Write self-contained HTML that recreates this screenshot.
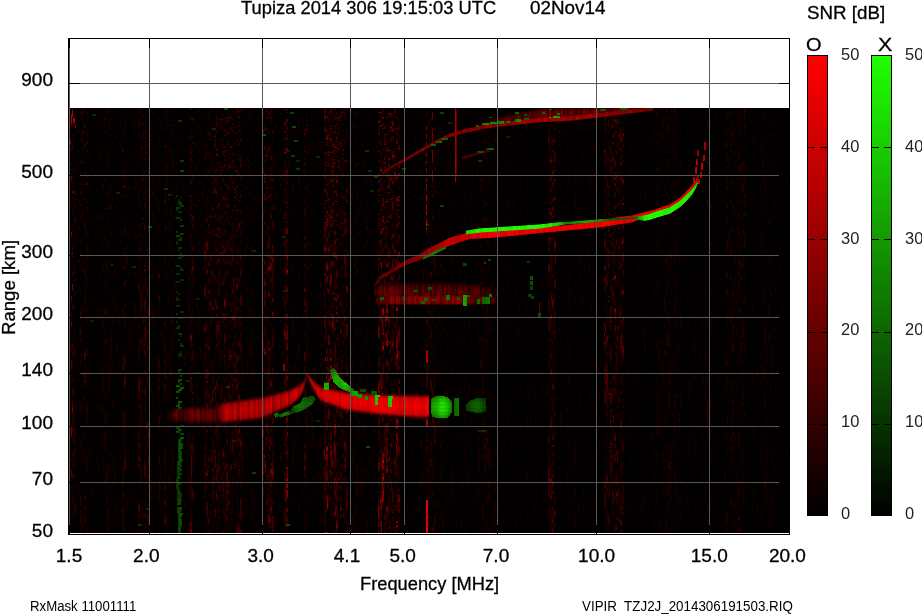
<!DOCTYPE html>
<html><head><meta charset="utf-8"><style>
html,body{margin:0;padding:0;background:#fff;width:922px;height:614px;overflow:hidden;position:relative}
svg{position:absolute;left:0;top:0}
.s{-webkit-text-stroke:0.3px #000}
.t{position:absolute;transform-origin:0 0;font-family:"Liberation Sans",sans-serif;color:#000;white-space:pre;line-height:1}
</style></head><body>
<canvas id="cv" width="719" height="425" style="position:absolute;left:70px;top:108px;background:#000"></canvas>
<script>
(function(){
var D = {"bands": [[70, 74, 0.22], [80, 86, 0.2], [105, 108, 0.15], [122, 125, 0.2], [138, 148, 0.2], [165, 170, 0.14], [190, 192, 0.3], [205, 215, 0.22], [215, 222, 0.3], [225, 240, 0.3], [263, 272, 0.32], [284, 286, 0.42], [305, 306, 0.24], [324, 336, 0.45], [336, 346, 0.3], [379, 398, 0.48], [426, 427, 0.3], [430, 434, 0.22], [480, 488, 0.18], [548, 555, 0.4], [604, 622, 0.42], [654, 680, 0.15], [704, 706, 0.15], [725, 745, 0.18], [760, 770, 0.14]], "tr": [{"ch": "r", "pts": [[166, 416, 3, 0.1], [176, 415, 6.5, 0.38], [190, 415, 7.5, 0.45], [212, 415, 7.5, 0.45], [221, 414, 8, 0.4]], "soft": 4.0, "var": 0.55, "cw": 2, "prof": 0.3, "dash": 0}, {"ch": "r", "pts": [[218, 413, 6, 0.3], [222, 413, 9.5, 0.8], [262, 408, 10, 0.82], [266, 406.5, 9.5, 0.85], [290, 398, 7.5, 0.88], [300, 391, 6, 0.85], [304, 385, 3.5, 0.7], [307, 374, 1.2, 0.55]], "soft": 3.0, "var": 0.3, "cw": 2, "prof": 0.2, "dash": 0}, {"ch": "r", "pts": [[307, 374, 1.2, 0.55], [312, 383, 3.5, 0.8], [320, 393.5, 6.5, 0.9], [345, 401, 8.5, 0.95], [380, 404.7, 9.5, 1.0], [420, 406.7, 10.5, 1.0], [429, 406.5, 10.5, 1.0]], "soft": 3.0, "var": 0.15, "cw": 2, "prof": 0.15, "dash": 0}, {"ch": "r", "pts": [[374, 286, 1.0, 0.25], [380, 278, 1.3, 0.38], [390, 272, 1.6, 0.42], [405, 263, 2.0, 0.45], [420, 257, 2.5, 0.55], [428, 252, 2.8, 0.68], [435, 249, 3.2, 0.72], [450, 241.5, 3.5, 0.8], [460, 238.5, 3.2, 0.85], [470, 235.5, 3, 0.9], [480, 235.3, 2.7, 0.95], [497, 233.9, 3, 1.0], [540, 230.4, 2.2, 1.0], [560, 228.5, 2.2, 1.0], [600, 224.3, 2.6, 1.0], [620, 220.5, 3.2, 1.0], [632, 219, 3, 1.0], [645, 214.5, 1.9, 1.0], [650, 213.3, 1.9, 1.0], [655, 212, 1.9, 1.0], [670, 206.8, 1.9, 1.0], [680, 200.3, 1.9, 1.0], [688, 192, 1.9, 0.95], [692, 187.3, 1.7, 0.9], [696, 182, 1.5, 0.85], [699, 175, 1, 0.7]], "soft": 1.0, "var": 0.15, "cw": 2, "prof": 0, "dash": 0}, {"ch": "g", "pts": [[466, 232.5, 1.5, 0.85], [480, 230.5, 1.7, 1.0], [540, 226.5, 1.7, 1.0], [558, 224, 1.3, 0.9], [566, 223.2, 0.8, 0.5], [585, 221.8, 0.9, 0.7], [600, 220.4, 0.8, 0.6], [612, 219.5, 0.6, 0.35], [634, 218, 0.6, 0.35], [645, 218, 2.4, 1.0], [650, 216.8, 2.6, 1.0], [655, 215, 2.7, 1.0], [670, 210.5, 2.8, 1.0], [680, 204, 2.8, 1.0], [687, 197.3, 2.7, 1.0], [692, 192, 2.4, 0.95], [696, 186, 1.8, 0.8], [698, 182, 1, 0.6]], "soft": 0.8, "var": 0.1, "cw": 2, "prof": 0, "dash": 0}, {"ch": "g", "pts": [[423, 258.5, 0.9, 0.45], [435, 252.5, 1.1, 0.5], [446, 247.5, 0.9, 0.45]], "soft": 0.8, "var": 0.1, "cw": 2, "prof": 0, "dash": 0}, {"ch": "r", "pts": [[382, 173.5, 1.0, 0.35], [393, 166.2, 1.0, 0.42], [406.6, 158.8, 1.1, 0.48], [421.3, 150.3, 1.2, 0.52], [433.5, 143, 1.3, 0.55], [449.4, 135.6, 1.3, 0.55], [462.8, 131.4, 1.4, 0.55], [480, 128, 1.5, 0.6]], "soft": 1.0, "var": 0.3, "cw": 2, "prof": 0, "dash": 0}, {"ch": "r", "pts": [[485, 124, 2, 0.35], [510, 119, 4, 0.45], [540, 115, 6, 0.52], [570, 113.5, 5.5, 0.52], [600, 111.5, 4, 0.5], [630, 110, 2.5, 0.45], [653, 108.8, 1.2, 0.4]], "soft": 2.5, "var": 0.6, "cw": 2, "prof": 0.5, "dash": 0}, {"ch": "r", "pts": [[480, 127.5, 1.5, 0.55], [497, 124.5, 1.8, 0.62], [540, 120, 1.8, 0.7], [570, 118.5, 1.8, 0.7], [600, 115, 1.8, 0.65], [630, 111.5, 1.5, 0.55], [653, 109, 1, 0.45]], "soft": 1.0, "var": 0.25, "cw": 2, "prof": 0, "dash": 0}, {"ch": "r", "pts": [[462, 158.2, 1.0, 0.3], [492, 149.5, 1.0, 0.32]], "soft": 1.0, "var": 0.3, "cw": 2, "prof": 0, "dash": 0}, {"ch": "r", "pts": [[374, 292, 4, 0.25], [382, 292, 8, 0.42], [440, 292, 9, 0.45], [480, 293, 8, 0.38], [497, 294, 5, 0.2]], "soft": 4.0, "var": 0.6, "cw": 2, "prof": 0.5, "dash": 0}, {"ch": "r", "pts": [[376, 300, 2.5, 0.3], [384, 300, 4.5, 0.6], [440, 300, 4.5, 0.62], [470, 300, 4.5, 0.55], [496, 300, 3.5, 0.35]], "soft": 1.5, "var": 0.45, "cw": 2, "prof": 0.2, "dash": 0}], "gp": [{"pts": [[289.3, 412.7], [293.6, 406.3], [301, 402.6], [303.1, 396.8], [313.7, 396.3], [315.8, 399.4], [311.6, 404.7], [305.2, 409], [297.8, 412.7], [291.5, 413.7]], "I": 0.5}, {"pts": [[274, 414], [278, 412], [279, 416], [275, 418]], "I": 0.45}, {"pts": [[278, 415], [289, 410.5], [292, 413.7], [280, 418]], "I": 0.5}, {"pts": [[330, 370], [334, 368], [339, 376], [345, 382], [352, 388], [356, 391], [356, 394], [346, 391], [338, 387], [333, 381]], "I": 0.85}, {"pts": [[323.7, 383], [329, 383], [329, 390], [323.7, 390]], "I": 0.75}, {"pts": [[433, 397], [440, 395.5], [448, 397], [452, 402], [452, 412], [448, 418], [440, 418.5], [432, 417], [431, 410], [431, 400]], "I": 0.95}, {"pts": [[453.6, 398], [459.3, 398], [459.3, 415.6], [453.6, 415.6]], "I": 0.5}, {"pts": [[466.2, 404], [471, 400], [478, 398], [486.2, 398], [486.2, 412], [478, 413.4], [471, 412], [466.2, 411]], "I": 0.42}, {"pts": [[300, 396], [314, 396], [314, 408.6], [300, 408.6]], "I": 0.0}, {"pts": [[351, 391], [358, 391], [358, 396], [351, 396]], "I": 0.7}, {"pts": [[357, 394], [362, 394], [362, 398], [357, 398]], "I": 0.65}, {"pts": [[365, 396], [368, 396], [368, 400], [365, 400]], "I": 0.6}, {"pts": [[375, 395], [380, 395], [380, 397], [375, 397]], "I": 0.85}, {"pts": [[375, 395], [378, 395], [378, 405], [375, 405]], "I": 0.85}, {"pts": [[388, 396], [393, 396], [393, 399], [388, 399]], "I": 0.85}, {"pts": [[388, 396], [392, 396], [392, 407], [388, 407]], "I": 0.85}, {"pts": [[371, 391], [377, 391], [377, 396], [371, 396]], "I": 0.4}, {"pts": [[360, 389], [366, 389], [366, 392], [360, 392]], "I": 0.35}, {"pts": [[482, 123], [489, 123], [489, 125], [482, 125]], "I": 0.62}, {"pts": [[490, 122], [497, 122], [497, 124], [490, 124]], "I": 0.62}, {"pts": [[498, 121], [503.6, 121], [503.6, 124], [498, 124]], "I": 0.62}, {"pts": [[507, 121], [510, 121], [510, 123], [507, 123]], "I": 0.58}, {"pts": [[515, 119], [521, 119], [521, 122], [515, 122]], "I": 0.58}, {"pts": [[524, 118], [528.6, 118], [528.6, 119.6], [524, 119.6]], "I": 0.47}, {"pts": [[515.5, 112], [519, 112], [519, 113.7], [515.5, 113.7]], "I": 0.43}, {"pts": [[524, 114], [527, 114], [527, 116], [524, 116]], "I": 0.39}, {"pts": [[541.6, 112], [545, 112], [545, 113.7], [541.6, 113.7]], "I": 0.43}, {"pts": [[549, 117.5], [551, 117.5], [551, 118.5], [549, 118.5]], "I": 0.7}, {"pts": [[553.5, 116], [560, 116], [560, 118], [553.5, 118]], "I": 0.7}, {"pts": [[549, 109], [552, 109], [552, 110.4], [549, 110.4]], "I": 0.47}, {"pts": [[557, 112.6], [560, 112.6], [560, 114.8], [557, 114.8]], "I": 0.47}, {"pts": [[489.5, 117.5], [491.7, 117.5], [491.7, 118.5], [489.5, 118.5]], "I": 0.39}, {"pts": [[476, 125], [478.7, 125], [478.7, 126.7], [476, 126.7]], "I": 0.47}, {"pts": [[431, 144], [436, 144], [436, 146], [431, 146]], "I": 0.47}, {"pts": [[436, 141.5], [442, 141.5], [442, 143.5], [436, 143.5]], "I": 0.47}, {"pts": [[442, 138.5], [448, 138.5], [448, 140.5], [442, 140.5]], "I": 0.43}, {"pts": [[477, 151], [483, 151], [483, 153], [477, 153]], "I": 0.4}, {"pts": [[487, 148], [494, 148], [494, 150], [487, 150]], "I": 0.42}, {"pts": [[600, 109], [606, 109], [606, 111], [600, 111]], "I": 0.39}, {"pts": [[620, 108], [628, 108], [628, 110], [620, 110]], "I": 0.39}, {"pts": [[379.7, 297], [384, 297], [384, 300], [379.7, 300]], "I": 0.4}, {"pts": [[402.3, 297], [405, 297], [405, 300], [402.3, 300]], "I": 0.35}, {"pts": [[414.4, 290], [418, 290], [418, 292], [414.4, 292]], "I": 0.4}, {"pts": [[421.4, 301], [425, 301], [425, 304], [421.4, 304]], "I": 0.45}, {"pts": [[424, 298], [428, 298], [428, 301], [424, 301]], "I": 0.45}, {"pts": [[428.3, 287], [432, 287], [432, 290], [428.3, 290]], "I": 0.4}, {"pts": [[431.8, 299], [435, 299], [435, 301], [431.8, 301]], "I": 0.4}, {"pts": [[445.7, 295.4], [450, 295.4], [450, 300], [445.7, 300]], "I": 0.5}, {"pts": [[457, 297], [460, 297], [460, 300], [457, 300]], "I": 0.4}, {"pts": [[463, 295.4], [467, 295.4], [467, 305.8], [463, 305.8]], "I": 0.7}, {"pts": [[467, 295.4], [470, 295.4], [470, 297.4], [467, 297.4]], "I": 0.5}, {"pts": [[477, 299], [480, 299], [480, 304], [477, 304]], "I": 0.45}, {"pts": [[482, 297], [490, 297], [490, 304], [482, 304]], "I": 0.5}, {"pts": [[489, 294.5], [492, 294.5], [492, 297.5], [489, 297.5]], "I": 0.5}, {"pts": [[463, 263], [467, 263], [467, 266], [463, 266]], "I": 0.3}, {"pts": [[530, 276], [533, 276], [533, 280], [530, 280]], "I": 0.35}, {"pts": [[530, 281], [533, 281], [533, 285], [530, 285]], "I": 0.35}, {"pts": [[530, 286], [533, 286], [533, 290], [530, 290]], "I": 0.3}, {"pts": [[528, 294], [532, 294], [532, 297], [528, 297]], "I": 0.3}, {"pts": [[531, 296], [534, 296], [534, 299], [531, 299]], "I": 0.3}, {"pts": [[538, 313], [541, 313], [541, 317], [538, 317]], "I": 0.35}, {"pts": [[527, 261], [530, 261], [530, 263], [527, 263]], "I": 0.25}, {"pts": [[484, 262], [486, 262], [486, 264], [484, 264]], "I": 0.3}, {"pts": [[488, 259], [491, 259], [491, 261], [488, 261]], "I": 0.3}, {"pts": [[290, 112], [294, 112], [294, 114], [290, 114]], "I": 0.3}, {"pts": [[292, 126], [296, 126], [296, 128], [292, 128]], "I": 0.35}, {"pts": [[294, 140], [298, 140], [298, 142], [294, 142]], "I": 0.3}, {"pts": [[291, 155], [295, 155], [295, 157], [291, 157]], "I": 0.3}, {"pts": [[296, 168], [300, 168], [300, 170], [296, 170]], "I": 0.25}, {"pts": [[365, 150], [369, 150], [369, 152], [365, 152]], "I": 0.25}, {"pts": [[368, 170], [372, 170], [372, 172], [368, 172]], "I": 0.25}, {"pts": [[370, 190], [374, 190], [374, 192], [370, 192]], "I": 0.2}, {"pts": [[440, 112], [444, 112], [444, 114], [440, 114]], "I": 0.3}, {"pts": [[402, 168], [406, 168], [406, 170], [402, 170]], "I": 0.3}, {"pts": [[440, 205], [444, 205], [444, 207], [440, 207]], "I": 0.3}, {"pts": [[178, 120], [182, 120], [182, 122], [178, 122]], "I": 0.25}, {"pts": [[180, 160], [184, 160], [184, 162], [180, 162]], "I": 0.25}, {"pts": [[212, 128], [216, 128], [216, 130], [212, 130]], "I": 0.2}], "rs": [[426, 126, 129, 0.55, 1], [426, 135, 138, 0.55, 1], [426, 142, 147, 0.55, 1], [426, 153, 155, 0.55, 1], [426, 161, 163, 0.55, 1], [426, 168, 172, 0.55, 1], [426, 178, 181, 0.55, 1], [426, 184, 189, 0.55, 1], [426, 195, 200, 0.8, 1], [426, 205, 208, 0.8, 1], [426, 211, 214, 0.8, 1], [426, 220, 225, 0.8, 1], [426, 227, 229, 0.8, 1], [432, 112, 118, 0.45, 1], [432, 128, 140, 0.45, 1], [432, 150, 162, 0.5, 1], [432, 170, 181, 0.45, 1], [455, 108, 181, 0.7, 1], [456, 110, 175, 0.45, 1], [426, 500, 533, 1.0, 2], [426, 419, 426, 0.7, 2], [426, 350, 362, 0.75, 2], [72, 110, 116, 0.8, 1], [71, 114, 124, 0.7, 1], [73, 118, 122, 0.75, 2], [75, 124, 127, 0.6, 1], [70, 140, 144, 0.55, 1], [71, 175, 178, 0.5, 1], [72, 190, 193, 0.5, 1], [71, 232, 236, 0.5, 1], [72, 284, 290, 0.5, 1], [71, 296, 300, 0.45, 1], [71, 322, 326, 0.45, 1], [72, 405, 412, 0.5, 1], [71, 425, 436, 0.5, 1], [71, 470, 476, 0.4, 1], [72, 252, 256, 0.4, 1], [71, 360, 366, 0.4, 1], [283, 364, 370, 0.6, 2], [191, 455, 475, 0.35, 1], [539, 302, 313, 0.4, 1], [693, 177, 182, 0.8, 2], [695, 167, 173, 0.8, 2], [696, 159, 164, 0.75, 2], [697, 150, 155, 0.7, 2], [698, 179, 183, 0.8, 2], [700, 172, 177, 0.8, 2], [701, 163, 169, 0.8, 2], [703, 155, 160, 0.75, 2], [704, 142, 149, 0.7, 2]]};
var OX=70, OY=108, W=719, H=425;
var cv = document.getElementById('cv');
var ctx = cv.getContext('2d');
var R = new Float32Array(W*H), G = new Float32Array(W*H);
var s = 88172645;
function rnd(){ s ^= s<<13; s>>>=0; s ^= s>>>17; s ^= s<<5; s>>>=0; return s/4294967296; }
var prof = new Float32Array(W), i, x, y;
for(x=0;x<W;x++) prof[x]=0.045 + 0.09*rnd()*rnd();
D.bands.forEach(function(b){ for(var xx=b[0];xx<=b[1];xx++){ var k=xx-OX; if(k>=0&&k<W) prof[k]=Math.max(prof[k], b[2]); }});
// background noise
var knY = new Float32Array(400), knV = new Float32Array(400);
for(var cx=0; cx<W; cx+=2){
  var pr = Math.max(prof[cx], prof[Math.min(W-1,cx+1)]);
  var colr = 0.45 + 0.55*rnd();
  var nk=0, ky0=-2*rnd()*8;
  while(ky0 < H+40 && nk<400){ knY[nk]=ky0; knV[nk]=rnd(); nk++; var pyk=ky0+OY; ky0 += (pyk<230?3:(pyk<420?3+12*(pyk-230)/190:15))*(0.6+0.8*rnd()); }
  var j=0, cellEnd=-1, cm=1, cm2=1;
  for(var y2=0; y2<H; y2++){
    while(j<nk-2 && knY[j+1]<=y2) j++;
    var t = (y2-knY[j])/(knY[j+1]-knY[j]); t = t*t*(3-2*t);
    var sv = knV[j]*(1-t)+knV[j+1]*t;
    var pyy = y2+OY, pxx = cx+OX;
    var gain = pxx<430?1:(pxx>510?0.68:1-0.32*(pxx-430)/80);
    var up = pxx<520 ? (pyy<200?1:(pyy>260?0:(260-pyy)/60)) : 0.0;
    if (y2>cellEnd){ cellEnd = y2 + 1 + Math.floor(rnd()*4); cm = rnd()<0.35?0.12:(0.45+0.9*rnd()); cm2 = rnd()<0.5?cm:(rnd()<0.35?0.12:(0.45+0.9*rnd())); }
    var base = pr*gain;
    var vu = (base+0.03)*(sv*sv*0.8)*(rnd()<0.6?(0.6+0.8*rnd()):0.15);
    var vl = base*colr*(0.1+0.9*sv*sv)*1.35;
    var v1 = up*vu*(0.8+0.4*rnd()) + (1-up)*vl*cm, v2 = up*vu*(0.7+0.5*rnd()) + (1-up)*vl*cm2;
    R[y2*W+cx] = v1; if(cx+1<W) R[y2*W+cx+1] = v2;
  }
}
// sparse green noise cells
for(i=0;i<45;i++){
  var gx = Math.floor(rnd()*220)*2, gy=Math.floor(rnd()*H/2)*2, gI = 0.12+0.25*rnd()*rnd();
  for(var a1=0;a1<2;a1++) for(var b1=0;b1<4;b1++){ var k=(gy+a1)*W+gx+b1; if(gx+b1<W&&gy+a1<H){G[k]=Math.max(G[k],gI); R[k]*=0.3;} }
}
// green streak at x~177-183
(function(){
  var kv=0.5, y3, k;
  for(y3=87; y3<H; y3+=2){
    var py = y3+OY;
    kv = Math.max(0, Math.min(1, kv + (rnd()-0.5)*0.6));
    var lvl, on;
    if (py>=438) { lvl = 0.22+0.1*kv; on = rnd()<0.95; }
    else if (py>=190) { lvl = 0.17+0.2*kv; on = rnd() < 0.5+0.4*kv; }
    else { lvl = 0.12+0.12*kv; on = rnd()<0.25; }
    if(!on) continue;
    var x0 = (py>=438)?(177+(kv>0.6?1:0)+(kv<0.2?-1:0)):(176+2*Math.floor(rnd()*3));
    var wd = (py>=438)?(3+Math.floor(rnd()*3)):(2+2*Math.floor(rnd()*2));
    for(var a3=0;a3<2 && y3+a3<H;a3++) for(var b2=0;b2<wd;b2++){ k=(y3+a3)*W+(x0-OX)+b2; var l2 = lvl*((b2==0||b2==wd-1)?0.8:1)*(0.85+0.3*rnd()); G[k]=Math.max(G[k],l2); R[k]*=0.3; }
  }
})();
function interp(pts, xq){
  if (xq<pts[0][0]||xq>pts[pts.length-1][0]) return null;
  for(var j=0;j<pts.length-1;j++){ var A=pts[j], B=pts[j+1]; if(xq>=A[0]&&xq<=B[0]){ var t=(B[0]==A[0])?0:(xq-A[0])/(B[0]-A[0]); return [A[1]+(B[1]-A[1])*t, A[2]+(B[2]-A[2])*t, A[3]+(B[3]-A[3])*t]; } }
  return null;
}
D.tr.forEach(function(tr){
  var x0=Math.floor(tr.pts[0][0]), x1=Math.ceil(tr.pts[tr.pts.length-1][0]);
  var colv=1;
  for(var xx=x0; xx<=x1; xx++){
    if((xx-x0)%tr.cw==0) colv = 1 - tr.var*rnd();
    var pp = interp(tr.pts, xx+0.5); if(!pp) continue;
    var yc=pp[0], hw=pp[1], I=pp[2];
    var ya=Math.floor(yc-hw-tr.soft-1), yb=Math.ceil(yc+hw+tr.soft+1);
    for(var yy2=ya; yy2<=yb; yy2++){
      var ad = Math.abs(yy2+0.5-yc);
      var al;
      if (tr.prof) { var e0 = hw - tr.soft, e1 = hw + tr.soft; var t2 = ad<=e0?0:(ad>=e1?1:(ad-e0)/(e1-e0)); al = 1 - t2*t2*(3-2*t2); al = al*(1-tr.prof*(ad/(hw+tr.soft))); }
      else { var d = ad-hw; al = d<=0?1:Math.max(0,1-d/tr.soft); }
      if(al<=0) continue;
      if (tr.dash && ((yy2 % Math.round(tr.dash*1.6)) >= tr.dash)) al*=0.1;
      var kx=xx-OX, ky=yy2-OY; if(kx<0||kx>=W||ky<0||ky>=H) continue;
      var k3=ky*W+kx, val=I*al*colv;
      if(tr.ch=='r') { R[k3]=Math.max(R[k3],val); G[k3]*=(1-al); } else { G[k3]=Math.max(G[k3],val); R[k3]*=(1-al*0.95); }
    }
  }
});
function inpoly(pts, px, py){
  var inside=false;
  for(var j=0,k=pts.length-1;j<pts.length;k=j++){
    var xi=pts[j][0], yi=pts[j][1], xj=pts[k][0], yj=pts[k][1];
    if(((yi>py)!=(yj>py)) && (px < (xj-xi)*(py-yi)/(yj-yi)+xi)) inside=!inside;
  }
  return inside;
}
D.gp.forEach(function(g){
  if(g.I<=0) return;
  var minx=1e9,maxx=-1e9,miny=1e9,maxy=-1e9;
  g.pts.forEach(function(q){minx=Math.min(minx,q[0]);maxx=Math.max(maxx,q[0]);miny=Math.min(miny,q[1]);maxy=Math.max(maxy,q[1]);});
  for(var py2=Math.floor(miny); py2<=Math.ceil(maxy); py2++) for(var px2=Math.floor(minx); px2<=Math.ceil(maxx); px2++){
    if(!inpoly(g.pts, px2+0.5, py2+0.5)) continue;
    var kx=px2-OX, ky=py2-OY; if(kx<0||kx>=W||ky<0||ky>=H) continue;
    var cvv = 0.82+0.18*Math.abs(Math.sin(Math.floor(px2/2)*12.9898+g.I*78.233)); var hxw=(maxx-minx)/2+0.5, hyw=(maxy-miny)/2+0.5; var ddx=(px2+0.5-(minx+maxx)/2)/hxw, ddy=(py2+0.5-(miny+maxy)/2)/hyw; if(hxw>4&&hyw>4) cvv*=Math.max(0.55, 1-0.4*(ddx*ddx+ddy*ddy)); cvv*= (0.9+0.1*Math.abs(Math.sin(py2*7.13))); var k4=ky*W+kx; G[k4]=Math.max(G[k4], g.I*cvv*(0.9+0.1*rnd())); R[k4]*=0.1;
  }
});
D.rs.forEach(function(q){
  for(var py3=q[1]; py3<=q[2]; py3++) for(var w=0; w<q[4]; w++){
    var kx=q[0]+w-OX, ky=py3-OY; if(kx<0||kx>=W||ky<0||ky>=H) continue;
    var k5=ky*W+kx; R[k5]=Math.max(R[k5], q[3]*(0.75+0.25*rnd()));
  }
});
var img = ctx.createImageData(W,H), dt=img.data;
for(i=0;i<W*H;i++){
  var gg=Math.min(1,G[i]), rr=Math.min(1,R[i]);
  dt[4*i]=Math.round(Math.max(rr, gg*0.15)*255);
  dt[4*i+1]=Math.round(gg*255);
  dt[4*i+2]=0; dt[4*i+3]=255;
}
ctx.putImageData(img,0,0);
})();

</script>
<svg width="922" height="614" viewBox="0 0 922 614" shape-rendering="crispEdges">
<rect x="69" y="39" width="1" height="494" fill="#585858"/>
<rect x="149" y="39" width="1" height="494" fill="#585858"/>
<rect x="262" y="39" width="1" height="494" fill="#585858"/>
<rect x="350" y="39" width="1" height="494" fill="#585858"/>
<rect x="404" y="39" width="1" height="494" fill="#585858"/>
<rect x="497" y="39" width="1" height="494" fill="#585858"/>
<rect x="596" y="39" width="1" height="494" fill="#585858"/>
<rect x="709" y="39" width="1" height="494" fill="#585858"/>
<rect x="69" y="83" width="720" height="1" fill="#585858"/>
<rect x="69" y="175" width="720" height="1" fill="#585858"/>
<rect x="69" y="255" width="720" height="1" fill="#585858"/>
<rect x="69" y="317" width="720" height="1" fill="#585858"/>
<rect x="69" y="373" width="720" height="1" fill="#585858"/>
<rect x="69" y="426" width="720" height="1" fill="#585858"/>
<rect x="69" y="482" width="720" height="1" fill="#585858"/>
<rect x="70" y="533" width="719" height="1" fill="#fff"/>
<rect x="149" y="39" width="1" height="9" fill="#000"/>
<rect x="149" y="525" width="1" height="9" fill="#000"/>
<rect x="262" y="39" width="1" height="9" fill="#000"/>
<rect x="262" y="525" width="1" height="9" fill="#000"/>
<rect x="350" y="39" width="1" height="9" fill="#000"/>
<rect x="350" y="525" width="1" height="9" fill="#000"/>
<rect x="404" y="39" width="1" height="9" fill="#000"/>
<rect x="404" y="525" width="1" height="9" fill="#000"/>
<rect x="497" y="39" width="1" height="9" fill="#000"/>
<rect x="497" y="525" width="1" height="9" fill="#000"/>
<rect x="596" y="39" width="1" height="9" fill="#000"/>
<rect x="596" y="525" width="1" height="9" fill="#000"/>
<rect x="709" y="39" width="1" height="9" fill="#000"/>
<rect x="709" y="525" width="1" height="9" fill="#000"/>
<rect x="69" y="83" width="11" height="1" fill="#000"/>
<rect x="779" y="83" width="10" height="1" fill="#000"/>
<rect x="69" y="175" width="11" height="1" fill="#000"/>
<rect x="779" y="175" width="10" height="1" fill="#000"/>
<rect x="69" y="255" width="11" height="1" fill="#000"/>
<rect x="779" y="255" width="10" height="1" fill="#000"/>
<rect x="69" y="317" width="11" height="1" fill="#000"/>
<rect x="779" y="317" width="10" height="1" fill="#000"/>
<rect x="69" y="373" width="11" height="1" fill="#000"/>
<rect x="779" y="373" width="10" height="1" fill="#000"/>
<rect x="69" y="426" width="11" height="1" fill="#000"/>
<rect x="779" y="426" width="10" height="1" fill="#000"/>
<rect x="69" y="482" width="11" height="1" fill="#000"/>
<rect x="779" y="482" width="10" height="1" fill="#000"/>
<rect x="69" y="39" width="1" height="9" fill="#000"/>
<rect x="69" y="525" width="1" height="9" fill="#000"/>
<rect x="68" y="38" width="722" height="1" fill="#000"/>
<rect x="68" y="534" width="722" height="1" fill="#000"/>
<rect x="68" y="38" width="1" height="497" fill="#000"/>
<rect x="789" y="38" width="1" height="497" fill="#000"/>
<defs><linearGradient id="gr" x1="0" y1="0" x2="0" y2="1"><stop offset="0" stop-color="#ff0000"/><stop offset="1" stop-color="#000"/></linearGradient><linearGradient id="gg" x1="0" y1="0" x2="0" y2="1"><stop offset="0" stop-color="#20ff00"/><stop offset="1" stop-color="#000"/></linearGradient></defs>
<rect x="807" y="55" width="21" height="461" fill="#000"/>
<rect x="808" y="56" width="19" height="459" fill="url(#gr)"/>
<rect x="808" y="147" width="7" height="1" fill="#000"/>
<rect x="820" y="147" width="7" height="1" fill="#000"/>
<rect x="808" y="239" width="7" height="1" fill="#000"/>
<rect x="820" y="239" width="7" height="1" fill="#000"/>
<rect x="808" y="332" width="7" height="1" fill="#000"/>
<rect x="820" y="332" width="7" height="1" fill="#000"/>
<rect x="808" y="424" width="7" height="1" fill="#000"/>
<rect x="820" y="424" width="7" height="1" fill="#000"/>
<rect x="871" y="55" width="21" height="461" fill="#000"/>
<rect x="872" y="56" width="19" height="459" fill="url(#gg)"/>
<rect x="872" y="147" width="7" height="1" fill="#000"/>
<rect x="884" y="147" width="7" height="1" fill="#000"/>
<rect x="872" y="239" width="7" height="1" fill="#000"/>
<rect x="884" y="239" width="7" height="1" fill="#000"/>
<rect x="872" y="332" width="7" height="1" fill="#000"/>
<rect x="884" y="332" width="7" height="1" fill="#000"/>
<rect x="872" y="424" width="7" height="1" fill="#000"/>
<rect x="884" y="424" width="7" height="1" fill="#000"/>
</svg>
<div class="t s" style="left:241.4px;top:-2.0px;font-size:19px;transform:scaleX(0.965)">Tupiza 2014 306 19:15:03 UTC</div>
<div class="t s" style="left:529.8px;top:-2.0px;font-size:19px;transform:scaleX(0.992)">02Nov14</div>
<div class="t s" style="left:806.9px;top:3.0px;font-size:19px;transform:scaleX(0.987)">SNR [dB]</div>
<div class="t s" style="left:806.3px;top:34.5px;font-size:19px;transform:scaleX(1.05)">O</div>
<div class="t s" style="left:878.2px;top:34.5px;font-size:19px;transform:scaleX(1.12)">X</div>
<div class="t" style="left:840.8px;top:45.9px;font-size:17px;transform:scaleX(0.967);color:#222">50</div>
<div class="t" style="left:904.8px;top:45.9px;font-size:17px;transform:scaleX(0.967);color:#222">50</div>
<div class="t" style="left:840.8px;top:137.70000000000002px;font-size:17px;transform:scaleX(0.967);color:#222">40</div>
<div class="t" style="left:904.8px;top:137.70000000000002px;font-size:17px;transform:scaleX(0.967);color:#222">40</div>
<div class="t" style="left:840.8px;top:229.5px;font-size:17px;transform:scaleX(0.967);color:#222">30</div>
<div class="t" style="left:904.8px;top:229.5px;font-size:17px;transform:scaleX(0.967);color:#222">30</div>
<div class="t" style="left:840.8px;top:321.29999999999995px;font-size:17px;transform:scaleX(0.967);color:#222">20</div>
<div class="t" style="left:904.8px;top:321.29999999999995px;font-size:17px;transform:scaleX(0.967);color:#222">20</div>
<div class="t" style="left:840.8px;top:413.09999999999997px;font-size:17px;transform:scaleX(0.967);color:#222">10</div>
<div class="t" style="left:904.8px;top:413.09999999999997px;font-size:17px;transform:scaleX(0.967);color:#222">10</div>
<div class="t" style="left:840.8px;top:504.9px;font-size:17px;transform:scaleX(0.967);color:#222">0</div>
<div class="t" style="left:904.8px;top:504.9px;font-size:17px;transform:scaleX(0.967);color:#222">0</div>
<div class="t s" style="left:0px;top:70px;font-size:19px;width:53px;text-align:right">900</div>
<div class="t s" style="left:0px;top:162px;font-size:19px;width:53px;text-align:right">500</div>
<div class="t s" style="left:0px;top:242px;font-size:19px;width:53px;text-align:right">300</div>
<div class="t s" style="left:0px;top:304px;font-size:19px;width:53px;text-align:right">200</div>
<div class="t s" style="left:0px;top:360px;font-size:19px;width:53px;text-align:right">140</div>
<div class="t s" style="left:0px;top:413px;font-size:19px;width:53px;text-align:right">100</div>
<div class="t s" style="left:0px;top:469px;font-size:19px;width:53px;text-align:right">70</div>
<div class="t s" style="left:0px;top:520.5px;font-size:19px;width:53px;text-align:right">50</div>
<div class="t s" style="left:55.8px;top:545.8px;font-size:19px;">1.5</div>
<div class="t s" style="left:133.1px;top:545.8px;font-size:19px;">2.0</div>
<div class="t s" style="left:247.4px;top:545.8px;font-size:19px;">3.0</div>
<div class="t s" style="left:333.8px;top:545.8px;font-size:19px;">4.1</div>
<div class="t s" style="left:389.5px;top:545.8px;font-size:19px;">5.0</div>
<div class="t s" style="left:482.8px;top:545.8px;font-size:19px;">7.0</div>
<div class="t s" style="left:578.1px;top:545.8px;font-size:19px;">10.0</div>
<div class="t s" style="left:690.8px;top:545.8px;font-size:19px;">15.0</div>
<div class="t s" style="left:768.9px;top:545.8px;font-size:19px;">20.0</div>
<div class="t s" style="left:359.8px;top:573.5px;font-size:19px;transform:scaleX(0.962)">Frequency [MHz]</div>
<div class="t" style="left:29.6px;top:599.0px;font-size:14px;transform:scaleX(0.944)">RxMask 11001111</div>
<div class="t" style="left:582.0px;top:599.2px;font-size:14px;transform:scaleX(0.955)">VIPIR  TZJ2J_2014306191503.RIQ</div>
<div class="t s" style="left:-38.5px;top:277.5px;font-size:18.6px;width:95px;height:19px;text-align:center;transform:rotate(-90deg);transform-origin:50% 50%">Range [km]</div>
</body></html>
